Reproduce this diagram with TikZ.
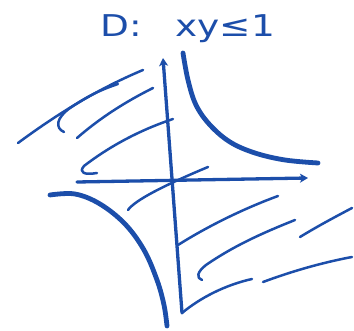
\documentclass[tikz,border=0pt]{standalone}
\usepackage{fontspec}
\setmainfont{DejaVu Sans}
\usetikzlibrary{arrows.meta}
\definecolor{pen}{RGB}{28,78,170}
\begin{document}
\begin{tikzpicture}[x=1pt,y=-1pt,
  stroke/.style={draw=pen,line cap=round,line join=round},
  axis/.style={stroke,line width=3.3pt,-{Stealth[length=8pt,width=9pt,inset=2pt]}},
  branch/.style={stroke,line width=4.8pt},
  hatch/.style={stroke,line width=2.5pt}]
\useasboundingbox (0,0) rectangle (354,331);
% title
\node[text=pen,font=\fontsize{30}{32}\selectfont,anchor=base west,xscale=1.25,inner sep=0pt] (title) at (100,37) {D:\hspace{0.9em}xy≤1};
% axes
\coordinate (xs) at (77,182);
\coordinate (xe) at (308,178);
\coordinate (ys) at (182,313);
\coordinate (ye) at (163,58);
\draw[axis] (xs) -- (xe);
\draw[axis] (ys) -- (ye);
% hyperbola branches
\draw[branch] plot[smooth,tension=0.6] coordinates {(183,53) (188,80) (196,105) (210,125) (230,142) (255,153) (285,160) (318,163)};
\draw[branch] plot[smooth,tension=0.6] coordinates {(50,195) (75,194) (100,204) (125,224) (144,250) (157,280) (164,305) (167,326)};
% hatching upper left
\draw[hatch] (18,143) .. controls (60,112) and (100,88) .. (143,70);
\draw[hatch] (64,132) .. controls (55,128) and (56,118) .. (70,108) .. controls (88,96) and (100,90) .. (118,84);
\draw[hatch] (77,138) .. controls (100,118) and (125,102) .. (153,88);
\draw[hatch] (97,173) .. controls (85,175) and (78,173) .. (84,166) .. controls (110,146) and (140,130) .. (173,119);
\draw[hatch] (128,210) .. controls (135,200) and (165,185) .. (208,167);
% hatching lower right
\draw[hatch] (178,245) .. controls (205,228) and (240,210) .. (278,196);
\draw[hatch] (202,280) .. controls (196,278) and (197,272) .. (206,265) .. controls (235,245) and (265,232) .. (295,220);
\draw[hatch] (300,237) .. controls (318,226) and (335,217) .. (352,208);
\draw[hatch] (182,313) .. controls (200,298) and (225,285) .. (252,279);
\draw[hatch] (263,282) .. controls (290,272) and (320,263) .. (352,257);
\end{tikzpicture}
\end{document}
